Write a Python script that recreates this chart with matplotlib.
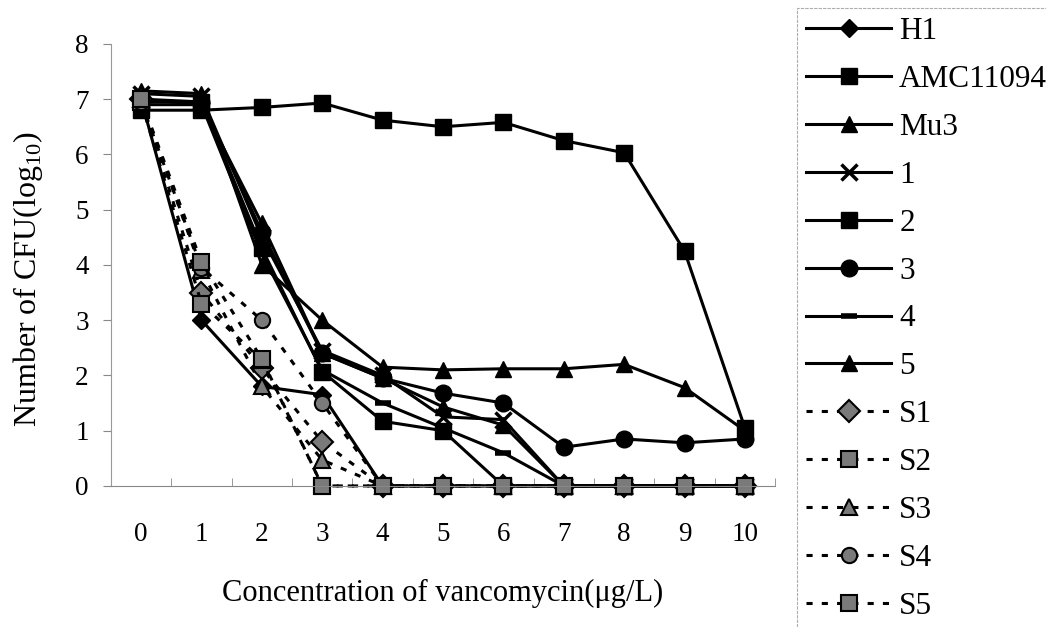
import numpy as np
import matplotlib
matplotlib.use('Agg')
import matplotlib.pyplot as plt

plt.rcParams['font.family'] = ['Liberation Serif', 'DejaVu Serif']
plt.rcParams['mathtext.fontset'] = 'custom'
plt.rcParams['mathtext.rm'] = 'Liberation Serif'

conc = list(range(11))

h1 = [7.0, 3.0, 1.8, 1.65, 0, 0, 0, 0, 0, 0, 0]
amc11094 = [6.8, 6.8, 6.85, 6.93, 6.62, 6.5, 6.58, 6.25, 6.03, 4.25, 1.05]
mu3 = [7.15, 7.1, 4.0, 3.0, 2.15, 2.1, 2.12, 2.12, 2.2, 1.78, 1.0]
iso1 = [7.1, 7.05, 4.5, 2.45, 2.0, 1.25, 1.2, 0, 0, 0, 0]
iso2 = [6.95, 6.95, 4.3, 2.07, 1.17, 1.0, 0, 0, 0, 0, 0]
iso3 = [7.0, 6.95, 4.6, 2.4, 1.95, 1.68, 1.5, 0.7, 0.85, 0.78, 0.85]
iso4 = [6.9, 6.9, 4.2, 2.1, 1.5, 1.05, 0.6, 0, 0, 0, 0]
iso5 = [7.0, 6.9, 4.75, 2.4, 1.95, 1.43, 1.1, 0, 0, 0, 0]
s1 = [7.0, 3.5, 2.13, 0.8, 0, 0, 0, 0, 0, 0, 0]
s2 = [6.95, 3.3, 2.28, 0, 0, 0, 0, 0, 0, 0, 0]
s3 = [7.0, 3.9, 1.8, 0.47, 0, 0, 0, 0, 0, 0, 0]
s4 = [6.95, 3.95, 3.0, 1.5, 0, 0, 0, 0, 0, 0, 0]
s5 = [7.0, 4.05, 2.3, 0, 0, 0, 0, 0, 0, 0, 0]

solid = [('H1', h1, 'D', 9), ('AMC11094', amc11094, 's', 12), ('Mu3', mu3, '^', 12),
         ('1', iso1, 'x', 11), ('2', iso2, 's', 11), ('3', iso3, 'o', 12),
         ('4', iso4, '_', 11), ('5', iso5, '^', 12)]
dashed = [('S1', s1, 'D', 11), ('S2', s2, 's', 11), ('S3', s3, '^', 11),
          ('S4', s4, 'o', 11), ('S5', s5, 's', 11)]

fig = plt.figure(figsize=(10.46, 6.27), dpi=100)
ax = fig.add_axes([0.106, 0.225, 0.635, 0.705])

for name, vals, mk, ms in solid:
    mew = 4 if mk == '_' else (2.5 if mk == 'x' else 1)
    ax.plot(conc, vals, color='black', lw=2.2, marker=mk, ms=ms, clip_on=False,
            mfc='black', mec='black', mew=mew, label=name)
for name, vals, mk, ms in dashed:
    ax.plot(conc, vals, color='black', lw=2.2, ls=(0, (2, 3)), marker=mk, ms=ms,
            clip_on=False, mfc='#7a7a7a', mec='black', mew=1.5, label=name)

ax.set_xlim(-0.5, 10.5)
ax.set_ylim(0, 8)
ax.set_xticks(conc)
ax.set_xticks(np.arange(-0.5, 10.6, 1), minor=True)
ax.tick_params(axis='x', which='major', length=0, labelsize=19.5, pad=26)
ax.tick_params(axis='x', which='minor', direction='in', length=6, color='#888888')
ax.set_yticks(range(9))
ax.tick_params(axis='y', direction='out', length=6, color='#888888', labelsize=19.5, pad=10)
for side in ['top', 'right']:
    ax.spines[side].set_visible(False)
ax.spines['left'].set_color('#999999')
ax.spines['left'].set_linestyle((0, (3, 1)))
ax.spines['bottom'].set_color('#888888')

ax.set_xlabel('Concentration of vancomycin(\u03bcg/L)', fontsize=22, va='center')
ax.xaxis.set_label_coords(0.5, -0.244)
ax.set_ylabel('Number of CFU(log$_{10}$)', fontsize=23, va='center')
ax.yaxis.set_label_coords(-0.125, 0.468)

leg = fig.legend(loc='upper left', bbox_to_anchor=(797 / 1046, 1 - 8 / 627),
                 fontsize=22.5, handlelength=2.72, labelspacing=0.605, borderpad=0.29,
                 handletextpad=0.26, borderaxespad=0, fancybox=False)
leg.get_frame().set_edgecolor('#999999')
leg.get_frame().set_linestyle((0, (3, 1)))
leg.get_frame().set_linewidth(0.8)

plt.savefig('out.png', dpi=100)
